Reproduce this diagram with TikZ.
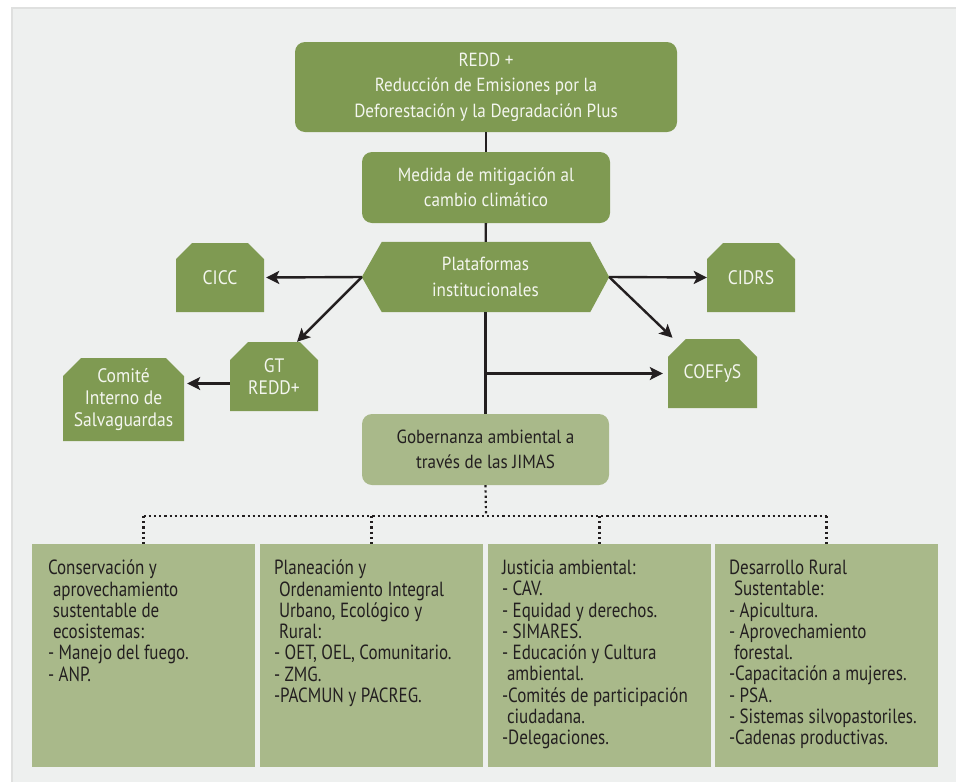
\documentclass[tikz,border=0pt]{standalone}
\usepackage{fontspec}
\setmainfont{PT Sans}[FakeStretch=0.9]
\newfontfamily\lowfont{PT Sans}[FakeStretch=0.83]
\usetikzlibrary{shapes.misc,arrows.meta,calc,backgrounds}
\definecolor{dgreen}{HTML}{7F9A52}
\definecolor{lgreen}{HTML}{A9B98A}
\definecolor{panel}{HTML}{EEF0EF}
\definecolor{panelline}{HTML}{DFE0DF}
\definecolor{ink}{HTML}{231F20}
\definecolor{wtext}{HTML}{F4F6EF}
\tikzset{
  upfont/.style={font=\fontsize{19}{25.5}\selectfont},
  topbox/.style={fill=dgreen, rounded corners=10pt, text=wtext, align=center, inner sep=0pt, upfont},
  lightbox/.style={fill=lgreen, rounded corners=10pt, text=ink, align=center, inner sep=0pt, upfont},
  chbox/.style={chamfered rectangle, chamfered rectangle corners={north west,north east},
    chamfered rectangle xsep=9pt, chamfered rectangle ysep=9pt, fill=dgreen, text=wtext,
    align=center, inner sep=0pt, font=\fontsize{19.5}{22}\selectfont},
  bbox/.style={fill=lgreen, minimum width=223pt, minimum height=223pt, inner sep=0pt},
  btext/.style={text=ink, align=left, inner sep=0pt, anchor=north west, font=\lowfont\fontsize{20.5}{21.25}\selectfont},
  ln/.style={draw=ink, line width=2.4pt},
  arr/.style={draw=ink, line width=2.4pt, -{Stealth[length=13pt,width=13pt,inset=3pt]}},
  dotline/.style={draw=ink, line width=2.2pt, dash pattern=on 2.2pt off 3pt}
}
\begin{document}
\begin{tikzpicture}[x=1pt,y=-1pt]
\useasboundingbox (0,0) rectangle (956,782);
\begin{pgfonlayer}{background}
\fill[white] (0,0) rectangle (956,782);
\fill[panel] (12,8) rectangle (956,782);
\draw[panelline, line width=1.5pt] (12,782) -- (12,8) -- (956,8);
\end{pgfonlayer}

% upper chain
\node[topbox, minimum width=382pt, minimum height=90pt] (redd) at (486,87)
  {REDD +\\Reducción de Emisiones por la\\Deforestación y la Degradación Plus};
\node[topbox, minimum width=248pt, minimum height=71pt] (medida) at (486,187.5)
  {Medida de mitigación al\\cambio climático};
\node[text=wtext, align=center, inner sep=0pt, upfont, minimum width=247pt, minimum height=70pt] (plat) at (485.5,277)
  {Plataformas\\institucionales};
\begin{pgfonlayer}{background}
\fill[dgreen] (plat.west) -- ($(plat.north west)+(20,0)$) -- ($(plat.north east)+(-19,0)$) -- (plat.east)
  -- ($(plat.south east)+(-19,0)$) -- ($(plat.south west)+(20,0)$) -- cycle;
\end{pgfonlayer}
\node[lightbox, minimum width=247pt, minimum height=71pt] (gob) at (485.5,449.5)
  {Gobernanza ambiental a\\través de las JIMAS};

% side boxes
\node[chbox, minimum width=88pt, minimum height=69pt] (cicc) at (220,277.5) {CICC};
\node[chbox, minimum width=88pt, minimum height=69pt] (cidrs) at (751,277.5) {CIDRS};
\node[chbox, minimum width=88pt, minimum height=69pt] (gt) at (274,376.5) {GT\\REDD+};
\node[chbox, minimum width=121pt, minimum height=83pt] (comite) at (123.5,399.5) {Comité\\Interno de\\Salvaguardas};
\node[chbox, minimum width=89pt, minimum height=69pt] (coefys) at (712.5,373.5) {COEFyS};

% connectors
\draw[ln] (redd) -- (medida);
\draw[ln] (medida) -- (plat);
\draw[ln] (plat) -- (gob);
\draw[arr] (plat.west) -- ([xshift=2pt]cicc.east);
\draw[arr] (plat.west) -- ([xshift=23pt]gt.north);
\draw[arr] (plat.east) -- (cidrs.west);
\draw[arr] (plat.east) -- ([xshift=-40pt,yshift=1pt]coefys.north);
\coordinate (cj) at (plat.south |- coefys.west);
\draw[arr] (cj) -- ([xshift=-5pt]coefys.west);
\coordinate (ga) at ([yshift=-7pt]gt.west);
\draw[arr] (ga) -- ([xshift=3pt]comite.east |- ga);

% bottom boxes
\node[bbox] (b1) at (143.5,655.5) {};
\node[bbox] (b2) at (371.5,655.5) {};
\node[bbox] (b3) at (599.5,655.5) {};
\node[bbox] (b4) at (826.5,655.5) {};

\node[btext] (t1) at ([xshift=16pt,yshift=-16pt]b1.north west)
  {Conservación y\\\hspace*{5pt}aprovechamiento\\\hspace*{5pt}sustentable de\\\hspace*{5pt}ecosistemas:\\- Manejo del fuego.\\- ANP.};
\node[btext] (t2) at ([xshift=14pt,yshift=-16pt]b2.north west)
  {Planeación y\\\hspace*{5pt}Ordenamiento Integral\\\hspace*{5pt}Urbano, Ecológico y\\\hspace*{5pt}Rural:\\- OET, OEL, Comunitario.\\- ZMG.\\-PACMUN y PACREG.};
\node[btext] (t3) at ([xshift=14pt,yshift=-16pt]b3.north west)
  {Justicia ambiental:\\- CAV.\\- Equidad y derechos.\\- SIMARES.\\- Educación y Cultura\\\hspace*{5pt}ambiental.\\-Comités de participación\\\hspace*{5pt}ciudadana.\\-Delegaciones.};
\node[btext] (t4) at ([xshift=14pt,yshift=-16pt]b4.north west)
  {Desarrollo Rural\\\hspace*{5pt}Sustentable:\\- Apicultura.\\- Aprovechamiento\\\hspace*{5pt}forestal.\\-Capacitación a mujeres.\\- PSA.\\- Sistemas silvopastoriles.\\-Cadenas productivas.};

% dotted tree
\coordinate (hub) at (486,516);
\draw[dotline] (gob.south) -- (hub);
\draw[dotline] (b1.north |- hub) -- (b4.north |- hub);
\foreach \b in {b1,b2,b3,b4}{
  \draw[dotline] (\b.north |- hub) -- (\b.north);
}
\end{tikzpicture}
\end{document}
